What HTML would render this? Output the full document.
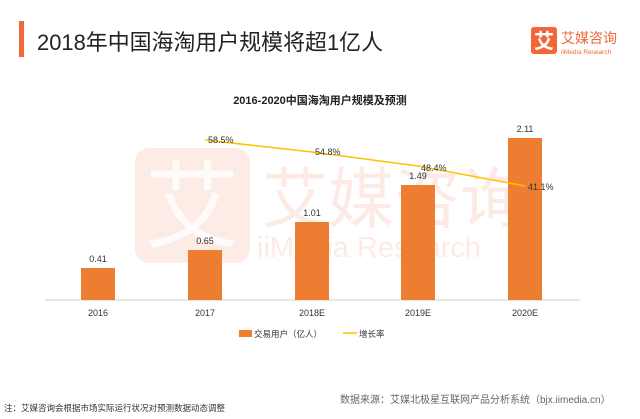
<!DOCTYPE html>
<html><head><meta charset="utf-8"><style>
body{margin:0;width:640px;height:414px;background:#fff;overflow:hidden;font-family:"Liberation Sans","Noto Sans CJK SC",sans-serif;}
</style></head><body>
<svg width="640" height="414" xmlns="http://www.w3.org/2000/svg" font-family="Liberation Sans, Noto Sans CJK SC, sans-serif">
<rect x="19" y="21" width="5" height="36" fill="#f2673a"/>
<text x="37" y="50" font-size="22" fill="#222" textLength="346" lengthAdjust="spacingAndGlyphs">2018年中国海淘用户规模将超1亿人</text>
<rect x="531" y="27" width="26" height="27" rx="3" fill="#f2673a"/>
<text x="544" y="48" font-size="20" fill="#fff" text-anchor="middle" font-weight="bold">艾</text>
<text x="561" y="43" font-size="14" fill="#f2673a">艾媒咨询</text>
<text x="561" y="54" font-size="6.5" fill="#f2673a">iiMedia Research</text>
<g opacity="0.13" fill="#f2673a">
<rect x="135" y="148" width="115" height="115" rx="14"/>
<text x="262" y="222" font-size="66">艾媒咨询</text>
<text x="257" y="257" font-size="29">iiMedia Research</text>
</g>
<text x="192" y="240" font-size="95" fill="#fff" opacity="0.8" text-anchor="middle">艾</text>
<text x="320" y="104" font-size="11" fill="#222" text-anchor="middle" font-weight="bold">2016-2020中国海淘用户规模及预测</text>
<line x1="45" y1="300" x2="580" y2="300" stroke="#ccc"/>
<g fill="#ed7d31">
<rect x="81" y="268" width="34" height="32"/>
<rect x="188" y="250" width="34" height="50"/>
<rect x="295" y="222" width="34" height="78"/>
<rect x="401" y="185" width="34" height="115"/>
<rect x="508" y="138" width="34" height="162"/>
</g>
<g font-size="9" fill="#333" text-anchor="middle">
<text x="98" y="262">0.41</text><text x="205" y="244">0.65</text><text x="312" y="216">1.01</text><text x="418" y="179">1.49</text><text x="525" y="132">2.11</text>
<text x="98" y="316">2016</text><text x="205" y="316">2017</text><text x="312" y="316">2018E</text><text x="418" y="316">2019E</text><text x="525" y="316">2020E</text>
</g>
<polyline points="205,140 312,152 418,166 525,186" fill="none" stroke="#ffc000" stroke-width="1.5"/>
<g font-size="9" fill="#333">
<text x="208" y="143">58.5%</text><text x="315" y="155">54.8%</text><text x="421" y="171">48.4%</text><text x="528" y="190">41.1%</text>
</g>
<rect x="239" y="330" width="13" height="7" fill="#ed7d31"/>
<text x="254" y="337" font-size="8.5" fill="#333">交易用户（亿人）</text>
<line x1="343" y1="333" x2="357" y2="333" stroke="#ffc000" stroke-width="1.5"/>
<text x="359" y="337" font-size="8.5" fill="#333">增长率</text>
<text x="4" y="411" font-size="8.5" fill="#333">注：艾媒咨询会根据市场实际运行状况对预测数据动态调整</text>
<text x="340" y="403" font-size="10" fill="#666">数据来源：艾媒北极星互联网产品分析系统（bjx.iimedia.cn）</text>
</svg>
</body></html>
